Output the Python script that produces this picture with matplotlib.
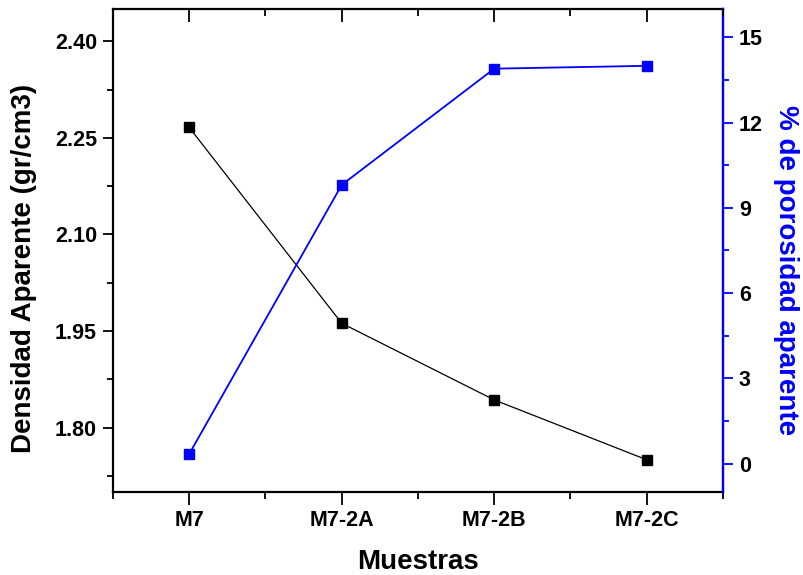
import matplotlib
matplotlib.use("Agg")
import matplotlib.pyplot as plt
from matplotlib.ticker import MultipleLocator, FixedLocator, NullFormatter

categories = ["M7", "M7-2A", "M7-2B", "M7-2C"]
densidad = [2.266, 1.962, 1.843, 1.750]
porosidad = [0.34, 9.81, 13.9, 14.0]

plt.rcParams['font.family'] = ['Liberation Sans', 'DejaVu Sans']
plt.rcParams['font.weight'] = 'bold'

fig = plt.figure(figsize=(8.04, 5.75), dpi=100)
ax = fig.add_axes([113/804, 1-492/575, (723-113)/804, (492-9)/575])
ax2 = ax.twinx()

x = list(range(len(categories)))
ax.plot(x, densidad, color='black', lw=0.9, marker='s', ms=7, mfc='black', mec='black', zorder=3)
ax2.plot(x, porosidad, color='#0000ff', lw=1.3, marker='s', ms=7, mfc='#0000ff', mec='#0000ff', zorder=3)

ax.set_xlim(-0.5, 3.5)
ax.set_ylim(1.70, 2.45)
ax2.set_ylim(-1, 16)

ax.set_xticks(x)
ax.set_xticklabels(categories)
ax.xaxis.set_minor_locator(MultipleLocator(0.5))
ax.yaxis.set_major_locator(FixedLocator([1.80, 1.95, 2.10, 2.25, 2.40]))
ax.yaxis.set_minor_locator(MultipleLocator(0.075))
ax.set_yticklabels(["1.80", "1.95", "2.10", "2.25", "2.40"])
ax2.yaxis.set_major_locator(FixedLocator([0, 3, 6, 9, 12, 15]))
ax2.yaxis.set_minor_locator(MultipleLocator(1.5))

# separate overlay axes that only carries the inward top ticks
axt = fig.add_axes(ax.get_position(), sharex=ax, frameon=False)
axt.patch.set_visible(False)
axt.yaxis.set_visible(False)
axt.xaxis.tick_top()
axt.tick_params(axis='x', which='both', top=True, bottom=False, labeltop=False,
                labelbottom=False, direction='in', width=1.3, color='black')
axt.tick_params(axis='x', which='major', length=9)
axt.tick_params(axis='x', which='minor', length=5)

for s in ax.spines.values():
    s.set_linewidth(1.6)
ax2.spines['right'].set_color('#0000ff')
ax2.spines['right'].set_linewidth(1.6)
ax2.spines['left'].set_visible(False)
ax2.spines['top'].set_visible(False)
ax2.spines['bottom'].set_visible(False)

ax.tick_params(axis='x', which='both', bottom=True, top=False, direction='out', labelsize=15.5, pad=4)
ax.tick_params(axis='x', which='major', length=9, width=1.3)
ax.tick_params(axis='x', which='minor', length=5, width=1.3)
ax.tick_params(axis='y', which='both', left=True, right=False, direction='out', labelsize=15.5, pad=4)
ax.tick_params(axis='y', which='major', length=7.5, width=1.3)
ax.tick_params(axis='y', which='minor', length=4, width=1.3)

ax2.tick_params(axis='y', which='both', direction='out', colors='#0000ff', labelcolor='black', labelsize=15.5, pad=4)
ax2.tick_params(axis='y', which='major', length=7.5, width=1.3)
ax2.tick_params(axis='y', which='minor', length=4, width=1.3)

for lab in ax.get_xticklabels() + ax.get_yticklabels() + ax2.get_yticklabels():
    lab.set_fontweight('bold')

ax.set_xlabel("Muestras", fontsize=20, fontweight='bold')
ax.set_ylabel("Densidad Aparente (gr/cm3)", fontsize=20, fontweight='bold')
ax2.set_ylabel("% de porosidad aparente", fontsize=20, fontweight='bold', color='#0000ff', rotation=270)
ax.xaxis.set_label_coords(0.5, -0.119)
ax.yaxis.set_label_coords(-0.125, 0.463)
ax2.yaxis.set_label_coords(1.125, 0.46)

fig.savefig("out.png", dpi=100)
